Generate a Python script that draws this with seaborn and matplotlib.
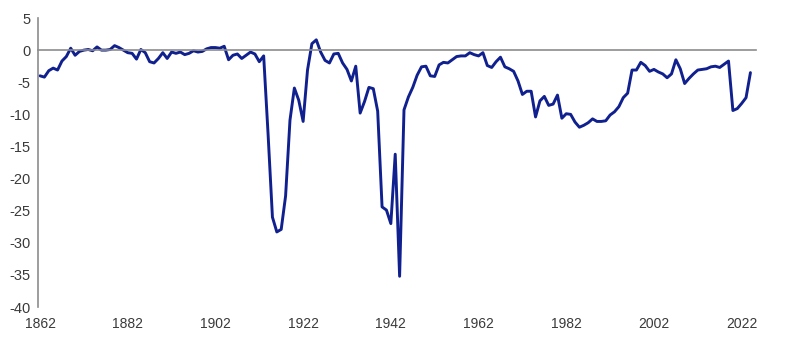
import numpy as np
import pandas as pd
import matplotlib
matplotlib.use("Agg")
import matplotlib.pyplot as plt
import seaborn as sns

# -----------------------------------
# Data
# -----------------------------------

years = list(range(1862, 2025))

vals_1862_1913 = [
    -4.0, -4.2, -3.2, -2.8, -3.1, -1.7, -1.0, 0.3, -0.8, -0.2,
    0.0, 0.1, -0.1, 0.5, 0.0, 0.0, 0.1, 0.7, 0.4, 0.0,
    -0.4, -0.5, -1.4, 0.1, -0.4, -1.8, -2.0, -1.3, -0.4, -1.3,
    -0.3, -0.5, -0.3, -0.7, -0.5, -0.1, -0.3, -0.2, 0.2, 0.4,
    0.4, 0.3, 0.6, -1.5, -0.8, -0.6, -1.3, -0.8, -0.3, -0.6,
    -1.8, -0.9,
]

vals_1914_1944 = [
    -13.0, -26.0, -28.3, -27.9, -22.7, -10.9, -5.9, -7.8, -11.1, -3.1,
    1.0, 1.6, -0.3, -1.6, -2.0, -0.6, -0.5, -2.0, -3.0, -4.8,
    -2.5, -9.8, -8.0, -5.8, -6.0, -9.5, -24.4, -24.9, -27.0, -16.2,
    -35.2,
]

vals_1945_2024 = [
    -9.3, -7.3, -5.8, -3.9, -2.6, -2.5, -4.0, -4.1, -2.3, -1.9,
    -2.0, -1.5, -1.0, -0.9, -0.9, -0.4, -0.7, -0.9, -0.4, -2.4,
    -2.7, -1.8, -1.1, -2.6, -2.9, -3.3, -4.8, -6.9, -6.4, -6.4,
    -10.4, -7.9, -7.2, -8.6, -8.4, -7.0, -10.6, -9.9, -10.0, -11.2,
    -12.0, -11.7, -11.3, -10.7, -11.1, -11.1, -11.0, -10.1, -9.6, -8.8,
    -7.4, -6.7, -3.1, -3.1, -1.9, -2.4, -3.3, -3.0, -3.4, -3.7,
    -4.3, -3.7, -1.5, -2.9, -5.2, -4.4, -3.7, -3.1, -3.0, -2.9,
    -2.6, -2.5, -2.7, -2.2, -1.7, -9.4, -9.1, -8.3, -7.4, -3.5,
]

x_ticks = [1862, 1882, 1902, 1922, 1942, 1962, 1982, 2002, 2022]
y_ticks = [5, 0, -5, -10, -15, -20, -25, -30, -35, -40]

df = pd.DataFrame({
    "year": years,
    "value": vals_1862_1913 + vals_1914_1944 + vals_1945_2024,
})

# -----------------------------------
# Style
# -----------------------------------

sns.set_style("white")
plt.rcParams["font.family"] = ["Liberation Sans", "DejaVu Sans"]

axis_grey = "#8c8c8c"
label_grey = "#3a3a3a"

fig = plt.figure(figsize=(7.88, 3.53), dpi=100)
ax = fig.add_axes([0.048, 0.130, 0.911, 0.819])

sns.lineplot(
    data=df,
    x="year",
    y="value",
    color="#10208e",
    linewidth=2.1,
    ax=ax
)

ax.set_xlim(1861.5, 2025.2)
ax.set_ylim(-40, 5)

ax.set_xticks(x_ticks)
ax.set_xticklabels([str(t) for t in x_ticks])
ax.set_yticks(y_ticks)
ax.set_yticklabels([str(t) for t in y_ticks])

ax.set_xlabel("")
ax.set_ylabel("")

# x axis drawn at zero, labels kept at the bottom
ax.spines["bottom"].set_position(("data", 0))
ax.spines["top"].set_visible(False)
ax.spines["right"].set_visible(False)
for s in ["bottom", "left"]:
    ax.spines[s].set_color(axis_grey)
    ax.spines[s].set_linewidth(1.2)

ax.tick_params(
    axis="x",
    direction="out",
    length=3,
    width=1.2,
    color=axis_grey,
    labelcolor=label_grey,
    labelsize=10,
    pad=189
)
ax.tick_params(
    axis="y",
    direction="out",
    length=4,
    width=1.2,
    color=axis_grey,
    labelcolor=label_grey,
    labelsize=10.5,
    pad=1.5
)

plt.savefig("out.png", dpi=100)
plt.close()
